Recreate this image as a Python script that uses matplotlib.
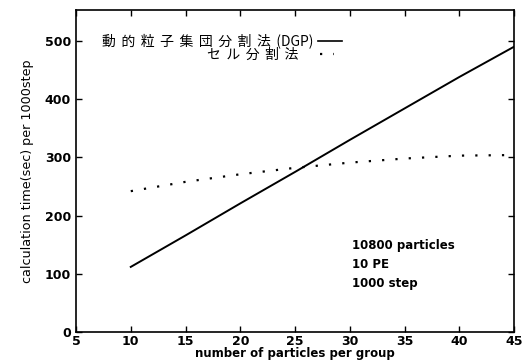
import matplotlib
matplotlib.use('Agg')
import matplotlib.pyplot as plt
from matplotlib.lines import Line2D

plt.rcParams['font.family'] = ['DejaVu Sans', 'Noto Sans CJK JP']

# data
group_size = [10, 15, 20, 25, 30, 35, 40, 45]
dgp_time = [112, 166, 221, 275, 330, 384, 438, 490]
cell_time = [242, 258, 271, 282, 291, 298, 303, 304]

label_dgp = '動的粒子集団分割法(DGP)'
label_cell = 'セル分割法'
note_lines = ['10800 particles', '10 PE', '1000 step']

fig = plt.figure(figsize=(5.3, 3.63), dpi=100)
ax = fig.add_axes([0.1434, 0.085, 0.8266, 0.8875])

ax.plot(group_size, dgp_time, color='black', lw=1.4)
ax.plot(group_size, cell_time, color='black', lw=1.6, ls=(0, (1, 5)))

ax.set_xlim(5, 45)
ax.set_ylim(0, 553)
ax.set_xticks(range(5, 46, 5))
ax.set_yticks(range(0, 501, 100))
ax.tick_params(direction='in', top=True, right=True, length=4, width=1)
ax.tick_params(axis='x', pad=2)
for lab in ax.get_xticklabels() + ax.get_yticklabels():
    lab.set_fontweight('bold')
    lab.set_fontsize(9)
for s in ax.spines.values():
    s.set_linewidth(1.2)

ax.set_xlabel('number of particles per group', fontsize=8.5, fontweight='bold', labelpad=-1)
ax.set_ylabel('calculation time(sec) per 1000step', fontsize=9.2, labelpad=8)

# key, gnuplot style: text right-justified then sample
jp = ['Noto Sans CJK JP', 'DejaVu Sans']
gap = '\u2009\u2009'
ax.text(0.541, 0.905, gap.join(label_dgp[:9]) + gap + label_dgp[9:],
        transform=ax.transAxes, ha='right', va='center', fontsize=10, family=jp)
ax.text(0.507, 0.862, gap.join(label_cell), transform=ax.transAxes,
        ha='right', va='center', fontsize=10, family=jp)
ax.add_line(Line2D([0.553, 0.607], [0.905, 0.905], transform=ax.transAxes,
                   color='black', lw=1.2))
ax.add_line(Line2D([0.557, 0.59], [0.862, 0.862], transform=ax.transAxes,
                   color='black', lw=1.6, ls=(0, (1, 5))))

ax.text(30.2, 160, '\n'.join(note_lines), ha='left', va='top', fontsize=8.5,
        fontweight='bold', linespacing=1.6)

fig.savefig('out.png', dpi=100)
